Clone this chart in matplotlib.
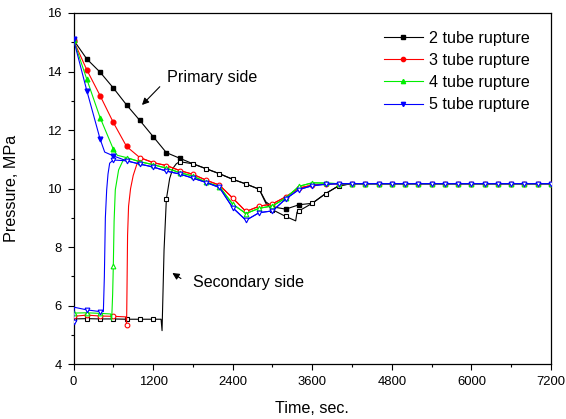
import matplotlib
matplotlib.use("Agg")
import matplotlib.pyplot as plt
import numpy as np

plt.rcParams['font.family'] = ['Liberation Sans', 'DejaVu Sans']

# ---- data (time in s, pressure in MPa) ----
# 2 tube rupture
t2_prim = [0, 200, 400, 600, 800, 1000, 1200, 1400, 1600, 1800, 2000, 2200, 2400, 2600, 2800, 2900,
           3000, 3200, 3400, 3600, 3800, 4000, 4200, 4400, 4600, 4800, 5000, 5200, 5400, 5600, 5800,
           6000, 6200, 6400, 6600, 6800, 7000, 7200]
p2_prim = [15.08, 14.43, 13.98, 13.44, 12.86, 12.33, 11.78, 11.23, 11.04, 10.85, 10.68, 10.51, 10.32, 10.16, 9.98, 9.55,
           9.38, 9.30, 9.45, 9.50, 9.83, 10.10, 10.17, 10.17, 10.17, 10.17, 10.17, 10.17, 10.17, 10.17, 10.17,
           10.17, 10.17, 10.17, 10.17, 10.17, 10.17, 10.17]
t2_sec = [0, 200, 400, 600, 800, 1000, 1200, 1320, 1335, 1365, 1400, 1450, 1500, 1550, 1600, 1800, 2000,
          2200, 2400, 2600, 2800, 2900, 3000, 3200, 3350, 3370, 3400, 3600]
p2_sec = [5.55, 5.56, 5.55, 5.55, 5.54, 5.54, 5.54, 5.54, 5.15, 7.9, 9.64, 10.35, 10.70, 10.85, 10.92, 10.85, 10.68,
          10.51, 10.32, 10.16, 9.98, 9.50, 9.28, 9.05, 8.90, 9.20, 9.24, 9.50]

# 3 tube rupture
t3_prim = [0, 200, 400, 600, 800, 1000, 1200, 1400, 1600, 1800, 2000, 2200, 2400, 2600, 2800, 3000,
           3200, 3400, 3600, 3800, 4000, 4200, 4400, 4600, 4800, 5000, 5200, 5400, 5600, 5800,
           6000, 6200, 6400, 6600, 6800, 7000, 7200]
p3_prim = [15.06, 14.06, 13.18, 12.26, 11.44, 11.06, 10.89, 10.79, 10.62, 10.49, 10.29, 10.12, 9.68, 9.22, 9.40, 9.48,
           9.72, 10.02, 10.12, 10.16, 10.17, 10.17, 10.17, 10.17, 10.17, 10.17, 10.17, 10.17, 10.17, 10.17,
           10.17, 10.17, 10.17, 10.17, 10.17, 10.17, 10.17]
t3_sec = [0, 200, 400, 600, 790, 800, 806, 815, 830, 860, 900, 950, 990]
p3_sec = [5.64, 5.68, 5.65, 5.64, 5.62, 5.34, 6.5, 8.4, 9.4, 10.0, 10.45, 10.80, 11.03]

# 4 tube rupture
t4_prim = [0, 200, 400, 600, 660, 800, 1000, 1200, 1400, 1600, 1800, 2000, 2200, 2400, 2600, 2800, 3000,
           3200, 3400, 3600, 3800, 4000, 4200, 4400, 4600, 4800, 5000, 5200, 5400, 5600, 5800,
           6000, 6200, 6400, 6600, 6800, 7000, 7200]
p4_prim = [15.08, 13.74, 12.43, 11.35, 11.14, 11.06, 10.92, 10.82, 10.70, 10.55, 10.43, 10.22, 10.07, 9.47, 9.15, 9.33, 9.41,
           9.68, 10.08, 10.20, 10.19, 10.17, 10.17, 10.17, 10.17, 10.17, 10.17, 10.17, 10.17, 10.17, 10.17,
           10.17, 10.17, 10.17, 10.17, 10.17, 10.17, 10.17]
t4_sec = [0, 200, 400, 560, 575, 590, 600, 612, 630, 680, 750]
p4_sec = [5.75, 5.76, 5.74, 5.72, 5.50, 6.4, 7.36, 8.9, 9.96, 10.64, 10.98]

# 5 tube rupture
t5_prim = [0, 200, 400, 470, 600, 800, 1000, 1200, 1400, 1600, 1800, 2000, 2200, 2400, 2600, 2800, 3000,
           3200, 3400, 3600, 3800, 4000, 4200, 4400, 4600, 4800, 5000, 5200, 5400, 5600, 5800,
           6000, 6200, 6400, 6600, 6800, 7000, 7200]
p5_prim = [15.10, 13.35, 11.70, 11.25, 11.12, 10.95, 10.84, 10.74, 10.60, 10.50, 10.36, 10.21, 10.04, 9.35, 8.92, 9.18, 9.24,
           9.65, 9.97, 10.10, 10.15, 10.17, 10.17, 10.17, 10.17, 10.17, 10.17, 10.17, 10.17, 10.17, 10.17,
           10.17, 10.17, 10.17, 10.17, 10.17, 10.17, 10.17]
t5_sec = [0, 10, 200, 400, 450, 465, 480, 500, 520, 545, 600]
p5_sec = [5.45, 5.95, 5.86, 5.80, 5.80, 7.0, 9.0, 9.96, 10.5, 10.87, 10.98]

labels = ['2 tube rupture', '3 tube rupture', '4 tube rupture', '5 tube rupture']
colors = ['black', '#ff0000', '#00ee00', '#0000ff']
markers = ['s', 'o', '^', 'v']


def full_secondary(t_sec, p_sec, t_pri, p_pri):
    # once both sides equalise the secondary follows the primary curve
    t_out = list(t_sec)
    p_out = list(p_sec)
    for t, p in zip(t_pri, p_pri):
        if t > t_sec[-1]:
            t_out.append(t)
            p_out.append(p)
    return np.array(t_out), np.array(p_out)


fig = plt.figure(figsize=(5.66, 4.19), dpi=100)
ax = fig.add_axes([0.1299, 0.1305, 0.8436, 0.8385])

cases = [(t2_prim, p2_prim, t2_sec, p2_sec), (t3_prim, p3_prim, t3_sec, p3_sec),
         (t4_prim, p4_prim, t4_sec, p4_sec), (t5_prim, p5_prim, t5_sec, p5_sec)]

handles = []
for i, (tp, pp, ts, ps) in enumerate(cases):
    tp = np.array(tp)
    pp = np.array(pp)
    ts_full, ps_full = full_secondary(ts, ps, tp, pp)
    shared = set(zip(ts_full.tolist(), ps_full.tolist()))
    prim_mask = [(t % 200 == 0) and ((t, p) not in shared) for t, p in zip(tp.tolist(), pp.tolist())]
    sec_mask = [t % 200 == 0 for t in ts_full.tolist()]
    z = 2 + i
    h, = ax.plot(tp, pp, color=colors[i], lw=0.8, marker=markers[i], ms=3.4,
                 markevery=prim_mask, label=labels[i], zorder=z)
    ax.plot(ts_full, ps_full, color=colors[i], lw=0.8, marker=markers[i], ms=3.4,
            mfc='white', mec=colors[i], mew=0.8, markevery=sec_mask, zorder=z + 0.5)
    handles.append(h)

ax.annotate('', xy=(1003, 12.79), xytext=(1330, 13.55),
            arrowprops=dict(arrowstyle='-|>', color='black', lw=0.8, mutation_scale=10))
ax.text(1414, 13.81, 'Primary side', fontsize=11.6, va='center', ha='left')
ax.annotate('', xy=(1455, 7.17), xytext=(1655, 6.88),
            arrowprops=dict(arrowstyle='-|>', color='black', lw=0.8, mutation_scale=10))
ax.text(1806, 6.79, 'Secondary side', fontsize=11.6, va='center', ha='left')

ax.set_xlim(0, 7200)
ax.set_ylim(4, 16)
ax.set_xticks(np.arange(0, 7201, 1200))
ax.set_xticks(np.arange(0, 7201, 600), minor=True)
ax.set_yticks(np.arange(4, 17, 2))
ax.set_yticks(np.arange(4, 17, 1), minor=True)
ax.tick_params(which='both', direction='out', top=False, right=False, labelsize=9.4, width=0.8)
ax.tick_params(which='major', length=4.3, pad=4)
ax.tick_params(which='minor', length=2.5)
for s in ax.spines.values():
    s.set_linewidth(0.9)

ax.set_xlabel('Time, sec.', fontsize=11.6)
ax.set_ylabel('Pressure, MPa', fontsize=11.6)
ax.xaxis.set_label_coords(0.5, -0.105)
ax.yaxis.set_label_coords(-0.115, 0.5)

ax.legend(handles=handles, loc='upper left', bbox_to_anchor=(0.65, 0.95), frameon=False,
          fontsize=11.6, borderpad=0, borderaxespad=0, handlelength=2.4, handletextpad=0.38,
          labelspacing=0.45, markerscale=0.9)

fig.savefig('out.png', dpi=100)
